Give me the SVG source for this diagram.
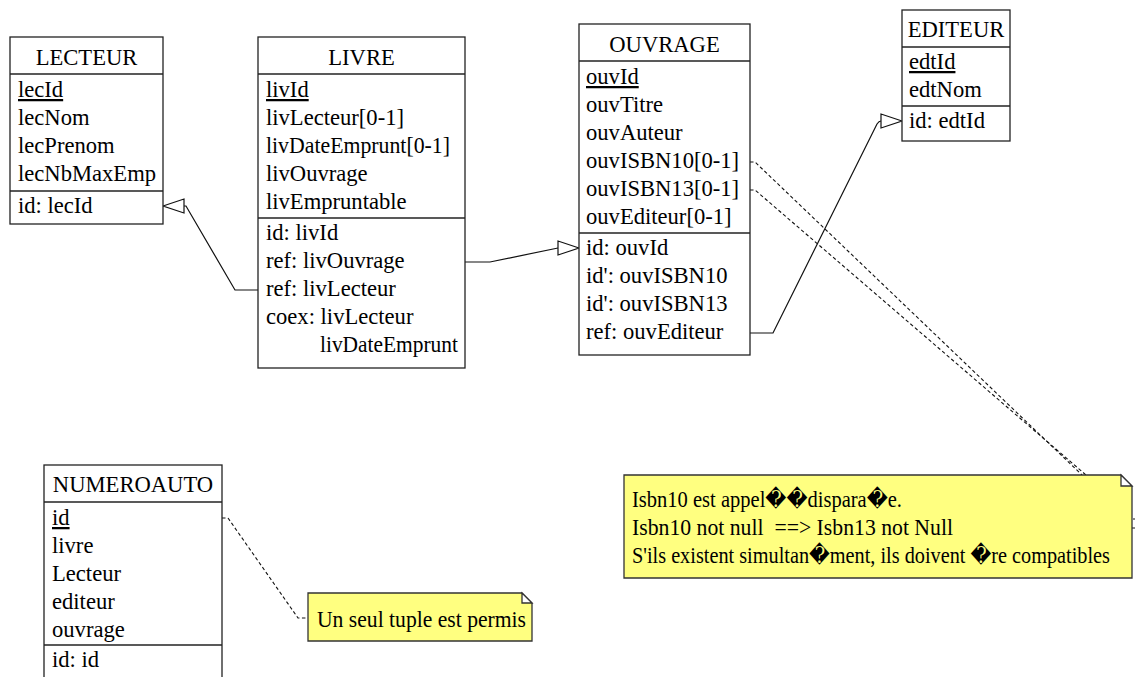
<svg xmlns="http://www.w3.org/2000/svg" width="1135" height="677" viewBox="0 0 1135 677">
<defs>
<style>
.box{fill:#fff;stroke:#222;stroke-width:1.3}
.sep{stroke:#222;stroke-width:1.3}
.txt text{font-size:22.6px;fill:#000}
.t{text-anchor:middle}
.u{text-decoration:underline}
.note{fill:#ffff80;stroke:#333;stroke-width:1.3}
.fold{fill:#fff;stroke:#333;stroke-width:1.3}
.c{fill:none;stroke:#111;stroke-width:1.2}
.d{fill:none;stroke:#111;stroke-width:1.1;stroke-dasharray:3.5 2.5}
.ah{fill:#fff;stroke:#111;stroke-width:1.2}
</style>
</defs>
<rect width="1135" height="677" fill="#fff"/>

<g id="connectors">
<path class="c" d="M258,290 L235,290 L186,206 L184,206"/>
<polygon class="ah" points="163,206 184,199 184,213"/>
<path class="c" d="M465,262 L490,262 L558,248"/>
<polygon class="ah" points="579,248 558,241 558,255"/>
<path class="c" d="M750,333 L773,333 L877,124 Q879,121 881,121"/>
<polygon class="ah" points="902,121 881,114 881,128"/>
<path class="d" d="M750,162 L755,162 L1082,475"/>
<path class="d" d="M750,190 L755,190 L1086,475"/>
<path class="d" d="M222,518 L228,518 L298,618 L308,618"/>
<path class="c" d="M1132,528 L1135,528 M1133,519 L1135,519"/>
</g>

<g class="txt" font-family="'Liberation Serif', 'Times New Roman', 'DejaVu Serif', serif">
<g id="LECTEUR">
<rect class="box" x="10" y="37" width="153" height="187"/>
<line class="sep" x1="10" y1="74" x2="163" y2="74"/>
<line class="sep" x1="10" y1="191" x2="163" y2="191"/>
<text class="t" x="86.5" y="65">LECTEUR</text>
<text class="u" x="18" y="97">lecId</text>
<text x="18" y="125">lecNom</text>
<text x="18" y="153">lecPrenom</text>
<text x="18" y="181">lecNbMaxEmp</text>
<text x="18" y="213">id: lecId</text>
</g>

<g id="LIVRE">
<rect class="box" x="258" y="37" width="207" height="331"/>
<line class="sep" x1="258" y1="74" x2="465" y2="74"/>
<line class="sep" x1="258" y1="218" x2="465" y2="218"/>
<text class="t" x="361.5" y="65">LIVRE</text>
<text class="u" x="266" y="97">livId</text>
<text x="266" y="125">livLecteur[0-1]</text>
<text x="266" y="153" textLength="184" lengthAdjust="spacingAndGlyphs">livDateEmprunt[0-1]</text>
<text x="266" y="181">livOuvrage</text>
<text x="266" y="209">livEmpruntable</text>
<text x="266" y="240">id: livId</text>
<text x="266" y="268">ref: livOuvrage</text>
<text x="266" y="296">ref: livLecteur</text>
<text x="266" y="324">coex: livLecteur</text>
<text x="320" y="352" textLength="138" lengthAdjust="spacingAndGlyphs">livDateEmprunt</text>
</g>

<g id="OUVRAGE">
<rect class="box" x="579" y="24" width="171" height="331"/>
<line class="sep" x1="579" y1="61" x2="750" y2="61"/>
<line class="sep" x1="579" y1="233" x2="750" y2="233"/>
<text class="t" x="664.5" y="52">OUVRAGE</text>
<text class="u" x="586" y="84">ouvId</text>
<text x="586" y="112">ouvTitre</text>
<text x="586" y="140">ouvAuteur</text>
<text x="586" y="168">ouvISBN10[0-1]</text>
<text x="586" y="196">ouvISBN13[0-1]</text>
<text x="586" y="224">ouvEditeur[0-1]</text>
<text x="586" y="255">id: ouvId</text>
<text x="586" y="283">id': ouvISBN10</text>
<text x="586" y="311">id': ouvISBN13</text>
<text x="586" y="339">ref: ouvEditeur</text>
</g>

<g id="EDITEUR">
<rect class="box" x="902" y="10" width="108" height="131"/>
<line class="sep" x1="902" y1="47" x2="1010" y2="47"/>
<line class="sep" x1="902" y1="106" x2="1010" y2="106"/>
<text class="t" x="956" y="37">EDITEUR</text>
<text class="u" x="909" y="69">edtId</text>
<text x="909" y="97">edtNom</text>
<text x="909" y="128">id: edtId</text>
</g>

<g id="NUMEROAUTO">
<rect class="box" x="44" y="465" width="178" height="230"/>
<line class="sep" x1="44" y1="502" x2="222" y2="502"/>
<line class="sep" x1="44" y1="645" x2="222" y2="645"/>
<text class="t" x="133" y="492">NUMEROAUTO</text>
<text class="u" x="52" y="525">id</text>
<text x="52" y="553">livre</text>
<text x="52" y="581">Lecteur</text>
<text x="52" y="609">editeur</text>
<text x="52" y="637">ouvrage</text>
<text x="52" y="667">id: id</text>
</g>

<g id="note-tuple">
<polygon class="note" points="308,593 522,593 532,603 532,641 308,641"/>
<polygon class="fold" points="522,593 522,603 532,603"/>
<text x="317" y="627" textLength="209" lengthAdjust="spacingAndGlyphs">Un seul tuple est permis</text>
</g>

<g id="note-isbn">
<polygon class="note" points="624,475 1121,475 1132,486 1132,578 624,578"/>
<polygon class="fold" points="1121,475 1121,486 1132,486"/>
<text x="632" y="507" textLength="270" lengthAdjust="spacingAndGlyphs">Isbn10 est appel��dispara�e.</text>
<text x="632" y="535" xml:space="preserve" textLength="321" lengthAdjust="spacingAndGlyphs">Isbn10 not null  ==&gt; Isbn13 not Null</text>
<text x="632" y="563" textLength="478" lengthAdjust="spacingAndGlyphs">S'ils existent simultan�ment, ils doivent �re compatibles</text>
</g>
</g>
</svg>
